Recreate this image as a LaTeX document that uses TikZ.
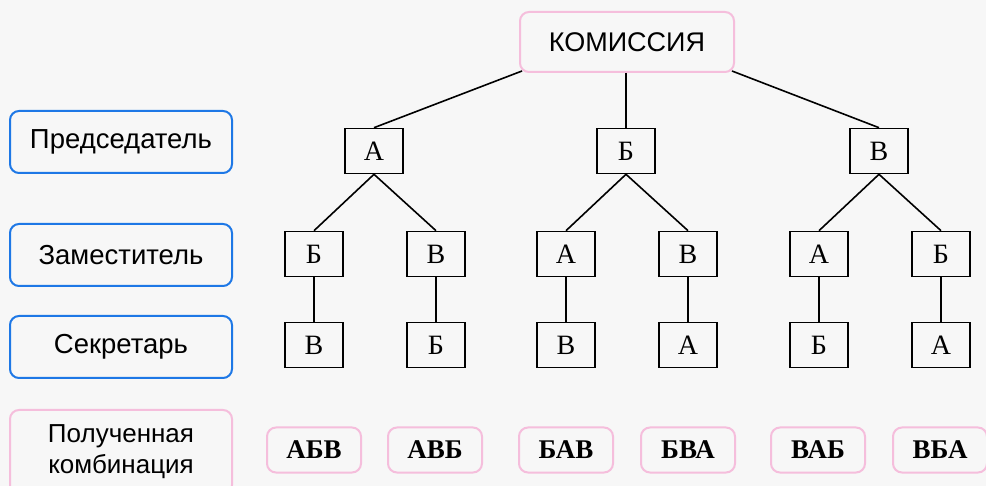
\documentclass[tikz,border=0pt]{standalone}
\usepackage{fontspec}
\setmainfont{Liberation Serif}
\setsansfont{Liberation Sans}
\begin{document}
\begin{tikzpicture}[x=1pt,y=-1pt,
  lbl/.style={draw={rgb,255:red,30;green,120;blue,230}, line width=2pt, rounded corners=9pt,
    minimum width=222pt, minimum height=62pt, inner sep=0pt, font=\sffamily\fontsize{27.5}{32}\selectfont},
  pnk/.style={draw={rgb,255:red,245;green,190;blue,220}, line width=2pt, rounded corners=9pt, inner sep=0pt},
  lt/.style={draw=black, line width=1.6pt, minimum width=58pt, minimum height=45pt, inner sep=0pt,
    font=\fontsize{28}{30}\selectfont},
  res/.style={pnk, minimum width=94pt, minimum height=45pt, font=\bfseries\fontsize{27}{30}\selectfont},
  cn/.style={line width=1.6pt}]
\fill[fill={rgb,255:red,247;green,247;blue,247}] (0,0) rectangle (986,486);
\useasboundingbox (0,0) rectangle (986,486);
% labels
\node[lbl] (pred) at (121,142) {Председатель};
\node[lbl] (zam) at (121,255) {Заместитель};
\node[lbl] (sek) at (121,347) {Секретарь};
\node[pnk, minimum width=222pt, minimum height=84pt, align=center,
  font=\sffamily\fontsize{26}{31}\selectfont] (komb) at (121,452) {Полученная\\комбинация};
% root
\node[pnk, minimum width=214pt, minimum height=60pt, font=\sffamily\fontsize{27}{30}\selectfont] (kom) at (627,42) {КОМИССИЯ};
% level 1
\node[lt] (a) at (374,151) {А};
\node[lt] (b) at (626,151) {Б};
\node[lt] (c) at (879,151) {В};
% level 2
\node[lt] (a1) at (314,254) {Б};
\node[lt] (a2) at (436,254) {В};
\node[lt] (b1) at (566,254) {А};
\node[lt] (b2) at (688,254) {В};
\node[lt] (c1) at (819,254) {А};
\node[lt] (c2) at (941,254) {Б};
% level 3
\node[lt] (a1s) at (314,345) {В};
\node[lt] (a2s) at (436,345) {Б};
\node[lt] (b1s) at (566,345) {В};
\node[lt] (b2s) at (688,345) {А};
\node[lt] (c1s) at (819,345) {Б};
\node[lt] (c2s) at (941,345) {А};
% results
\node[res] (r1) at (314,450) {АБВ};
\node[res] (r2) at (435,450) {АВБ};
\node[res] (r3) at (566,450) {БАВ};
\node[res] (r4) at (688,450) {БВА};
\node[res] (r5) at (818,450) {ВАБ};
\node[res] (r6) at (940,450) {ВБА};
% connectors
\draw[cn] ([xshift=3pt,yshift=2pt]kom.south west) -- (a.north);
\draw[cn] (kom.south -| b.north) -- (b.north);
\draw[cn] ([xshift=-3pt,yshift=2pt]kom.south east) -- (c.north);
\foreach \p/\q in {a/a1,a/a2,b/b1,b/b2,c/c1,c/c2}{
  \draw[cn] (\p.south) -- (\q.north);
  \draw[cn] (\q.south) -- (\q s.north);
}
\end{tikzpicture}
\end{document}
